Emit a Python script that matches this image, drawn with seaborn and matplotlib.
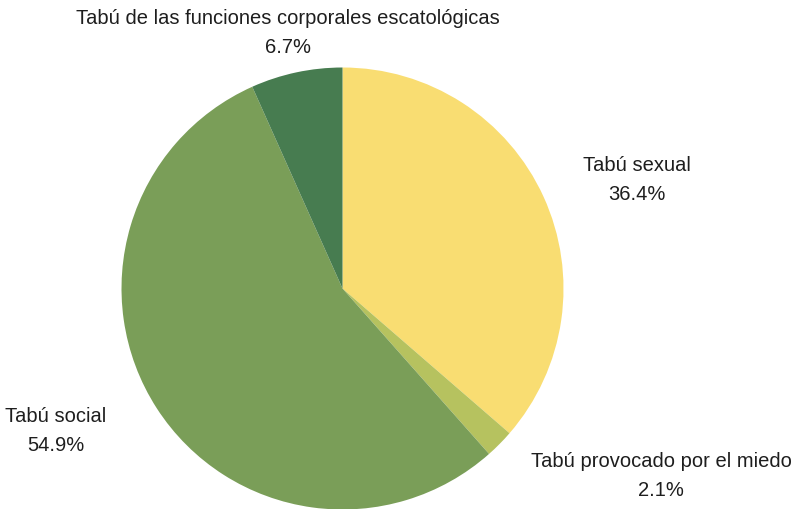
import matplotlib
matplotlib.use("Agg")
import matplotlib.pyplot as plt
import seaborn as sns

sns.set_theme(style="white")
plt.rcParams["font.family"] = ["Liberation Sans", "DejaVu Sans"]

categories = [
    "Tabú sexual",
    "Tabú provocado por el miedo",
    "Tabú social",
    "Tabú de las funciones corporales escatológicas",
]
shares = [36.4, 2.1, 54.9, 6.7]
colors = ["#F9DD72", "#B6C25F", "#7A9E58", "#477C50"]

# label anchor points (figure pixels, from the top-left corner)
label_pos = [(637, 180), (661, 476), (56, 431), (288, 33)]

W, H = 795, 510
fig = plt.figure(figsize=(W / 100, H / 100), dpi=100)
cx, cy, r = 342.5, 289.5, 221
ax = fig.add_axes([(cx - r) / W, (H - cy - r) / H, 2 * r / W, 2 * r / H])
ax.pie(shares, colors=colors, startangle=90, counterclock=False,
       wedgeprops=dict(linewidth=0))
ax.set_xlim(-1, 1)
ax.set_ylim(-1, 1)
ax.set_aspect("equal")
ax.axis("off")

for name, val, (px, py) in zip(categories, shares, label_pos):
    fig.text(px / W, 1 - py / H, f"{name}\n{val:.1f}%", ha="center",
             va="center", fontsize=14.5, color="#1e1e1e", linespacing=1.7)

fig.savefig("out.png", dpi=100)
